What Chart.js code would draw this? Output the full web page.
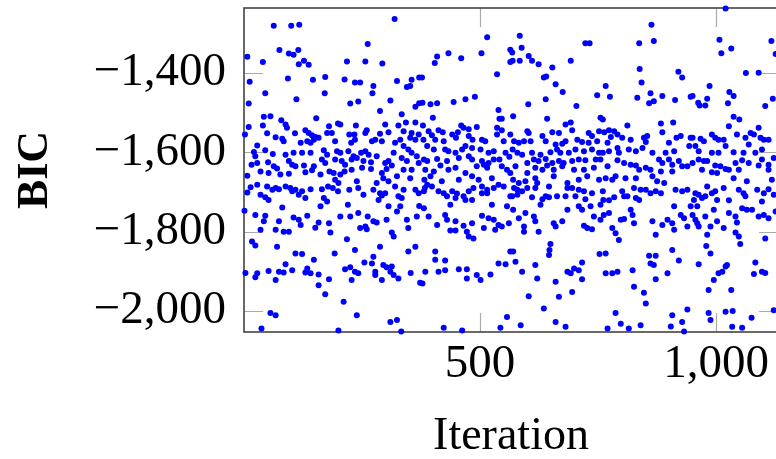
<!DOCTYPE html>
<html lang="en">
<head>
  <meta charset="UTF-8" />
  <title>BIC per Iteration</title>
  <script src="https://cdn.jsdelivr.net/npm/chart.js"></script>
  <style>
    html, body {
      margin: 0;
      padding: 0;
      background: #fff;
      overflow: hidden;
    }
    .chart-wrapper {
      width: 776px;
      height: 459px;
      overflow: hidden;
      position: relative;
      background: #fff;
    }
    canvas {
      display: block;
    }
  </style>
</head>
<body>
  <div class="chart-wrapper">
    <canvas id="bicChart" width="800" height="470"></canvas>
  </div>
  <script>
    // tick positions shown on the axes
    const xTickValues = [500, 1000];
    const yTickValues = [-2000, -1800, -1600, -1400];

    // [iteration, BIC] pairs
    const iter0to185 = [
      [63,-1281],[100,-1281],[117,-1278],[75,-1342],[95,-1351],[105,-1354],[115,-1342],[116,-1378],[127,-1369],[137,-1379],
      [7,-1359],[40,-1372],[12,-1422],[93,-1414],[146,-1417],[172,-1410],[45,-1451],[111,-1466],[171,-1451],[10,-1477],
      [42,-1510],[56,-1509],[153,-1514],[79,-1519],[10,-1536],[40,-1532],[88,-1530],[91,-1538],[2,-1555],[49,-1552],
      [67,-1562],[108,-1552],[81,-1566],[84,-1572],[130,-1544],[137,-1551],[144,-1557],[151,-1561],[134,-1572],[141,-1576],
      [148,-1568],[158,-1563],[176,-1551],[180,-1534],[28,-1583],[21,-1599],[45,-1595],[24,-1610],[61,-1604],[88,-1606],
      [105,-1601],[120,-1576],[123,-1601],[141,-1601],[169,-1595],[176,-1606],[16,-1631],[28,-1627],[51,-1625],[63,-1635],
      [70,-1641],[95,-1622],[102,-1631],[109,-1635],[127,-1633],[148,-1635],[165,-1618],[172,-1627],[7,-1659],[35,-1648],
      [52,-1652],[77,-1656],[95,-1654],[130,-1650],[144,-1645],[162,-1656],[181,-1648],[14,-1688],[28,-1682],[49,-1686],
      [60,-1694],[67,-1690],[74,-1693],[88,-1686],[98,-1690],[109,-1694],[123,-1698],[141,-1693],[165,-1693],[178,-1686],
      [7,-1701],[35,-1707],[45,-1713],[52,-1720],[102,-1698],[116,-1707],[130,-1715],[169,-1715],[176,-1724],[1,-1747],
      [81,-1739],[162,-1736],[24,-1758],[45,-1760],[42,-1774],[74,-1774],[105,-1764],[116,-1770],[134,-1760],[120,-1783],
      [158,-1777],[151,-1790],[180,-1779],[35,-1795],[67,-1795],[84,-1800],[95,-1800],[183,-1802],[17,-1825],[24,-1835],
      [70,-1838],[109,-1855],[123,-1856],[148,-1871],[88,-1882],[74,-1901],[84,-1903],[102,-1897],[52,-1899],[134,-1893],
      [130,-1903],[141,-1905],[158,-1908],[3,-1904],[28,-1905],[24,-1915],[67,-1922],[180,-1920],[158,-1935],[172,-1958],
      [56,-2005],[67,-2011],[37,-2044]
    ];
    const iter185to375 = [
      [319,-1264],[262,-1327],[218,-1371],[257,-1371],[293,-1376],[213,-1416],[235,-1424],[246,-1424],[274,-1433],[272,-1451],
      [324,-1420],[355,-1417],[345,-1435],[352,-1433],[371,-1411],[225,-1477],[242,-1472],[310,-1469],[363,-1485],[371,-1476],
      [288,-1496],[334,-1504],[199,-1527],[204,-1530],[237,-1532],[299,-1530],[327,-1532],[343,-1525],[363,-1525],[186,-1551],
      [223,-1555],[234,-1555],[260,-1544],[257,-1551],[288,-1553],[306,-1549],[338,-1547],[355,-1551],[370,-1555],[193,-1572],
      [227,-1576],[235,-1568],[271,-1572],[278,-1568],[292,-1572],[320,-1576],[331,-1568],[352,-1563],[363,-1568],[197,-1597],
      [204,-1601],[221,-1597],[232,-1610],[248,-1601],[257,-1597],[264,-1606],[281,-1610],[317,-1601],[338,-1584],[348,-1593],
      [355,-1601],[366,-1610],[193,-1618],[207,-1622],[214,-1631],[228,-1618],[239,-1614],[253,-1622],[269,-1625],[299,-1627],
      [306,-1622],[313,-1633],[334,-1614],[345,-1622],[370,-1627],[190,-1652],[204,-1656],[213,-1648],[228,-1644],[250,-1639],
      [269,-1642],[292,-1652],[302,-1642],[338,-1644],[355,-1644],[193,-1669],[200,-1677],[239,-1673],[281,-1677],[295,-1665],
      [306,-1673],[352,-1665],[324,-1660],[188,-1690],[223,-1694],[242,-1690],[274,-1694],[288,-1703],[292,-1709],[320,-1686],
      [338,-1694],[363,-1694],[199,-1698],[253,-1707],[299,-1703],[327,-1711],[334,-1715],[370,-1703],[220,-1732],[285,-1720],
      [331,-1736],[306,-1736],[371,-1735],[204,-1762],[225,-1762],[242,-1753],[262,-1762],[274,-1774],[302,-1770],[324,-1749],
      [345,-1770],[366,-1762],[246,-1791],[257,-1787],[281,-1777],[260,-1794],[313,-1802],[317,-1812],[348,-1791],[218,-1819],
      [288,-1838],[363,-1838],[192,-1855],[235,-1846],[348,-1850],[255,-1878],[271,-1880],[274,-1863],[295,-1884],[302,-1890],
      [313,-1888],[214,-1895],[225,-1890],[235,-1901],[242,-1905],[278,-1901],[278,-1909],[310,-1901],[317,-1909],[327,-1918],
      [353,-1904],[373,-1929],[228,-1922],[292,-1922],[211,-1977],[239,-2011],[310,-2028],[324,-2023],[200,-2049],[333,-2052]
    ];
    const iter375to565 = [
      [515,-1310],[409,-1358],[433,-1350],[460,-1363],[404,-1375],[503,-1350],[564,-1341],[564,-1372],[377,-1411],[536,-1403],
      [395,-1479],[409,-1476],[444,-1473],[469,-1466],[489,-1460],[378,-1475],[539,-1493],[400,-1513],[541,-1515],[546,-1515],
      [379,-1532],[391,-1547],[412,-1544],[421,-1549],[460,-1532],[465,-1538],[453,-1549],[476,-1542],[493,-1536],[536,-1538],
      [546,-1544],[380,-1568],[398,-1557],[405,-1568],[423,-1572],[441,-1555],[449,-1563],[476,-1559],[484,-1568],[504,-1568],
      [511,-1572],[536,-1555],[564,-1555],[388,-1584],[402,-1593],[426,-1593],[433,-1597],[448,-1601],[462,-1593],[469,-1584],
      [483,-1589],[501,-1593],[518,-1601],[529,-1597],[550,-1572],[554,-1601],[381,-1618],[388,-1622],[409,-1617],[430,-1622],
      [455,-1614],[476,-1610],[483,-1618],[504,-1622],[518,-1627],[529,-1618],[541,-1618],[562,-1611],[384,-1644],[402,-1648],
      [416,-1633],[433,-1644],[448,-1639],[469,-1652],[493,-1635],[508,-1631],[515,-1639],[546,-1635],[557,-1644],[382,-1669],
      [395,-1660],[419,-1673],[455,-1669],[483,-1660],[497,-1669],[525,-1665],[539,-1682],[564,-1652],[383,-1690],[388,-1682],
      [398,-1686],[412,-1698],[430,-1711],[441,-1698],[451,-1704],[465,-1711],[476,-1698],[486,-1690],[504,-1686],[515,-1694],
      [529,-1690],[550,-1686],[381,-1698],[423,-1703],[448,-1715],[469,-1720],[483,-1720],[504,-1703],[515,-1703],[437,-1732],
      [525,-1732],[557,-1736],[564,-1711],[381,-1741],[391,-1762],[409,-1783],[426,-1758],[430,-1770],[448,-1774],[465,-1785],
      [483,-1779],[504,-1760],[518,-1766],[529,-1770],[539,-1783],[546,-1787],[561,-1779],[437,-1797],[448,-1797],[472,-1800],
      [476,-1812],[486,-1817],[508,-1791],[532,-1795],[405,-1850],[405,-1871],[426,-1873],[564,-1850],[384,-1901],[412,-1901],
      [426,-1897],[455,-1895],[472,-1895],[493,-1909],[501,-1922],[522,-1908],[539,-1880],[554,-1882],[378,-1931],[472,-1918],
      [557,-2015],[423,-2042],[462,-2049],[543,-2042]
    ];
    const iter565to755 = [
      [723,-1325],[732,-1325],[584,-1306],[588,-1336],[568,-1348],[569,-1369],[584,-1369],[603,-1357],[610,-1369],[624,-1378],
      [692,-1369],[653,-1386],[635,-1411],[640,-1409],[660,-1428],[675,-1448],[748,-1456],[602,-1479],[639,-1466],[704,-1483],
      [570,-1509],[642,-1515],[681,-1530],[692,-1525],[755,-1513],[600,-1547],[603,-1551],[653,-1549],[632,-1559],[667,-1551],
      [695,-1544],[730,-1551],[737,-1559],[752,-1547],[572,-1572],[582,-1576],[593,-1572],[607,-1572],[639,-1572],[660,-1580],
      [674,-1578],[681,-1572],[706,-1568],[716,-1574],[730,-1576],[748,-1572],[569,-1593],[579,-1601],[589,-1606],[610,-1601],
      [628,-1606],[649,-1600],[663,-1593],[670,-1601],[688,-1601],[702,-1593],[720,-1597],[737,-1593],[752,-1601],[600,-1627],
      [614,-1618],[624,-1622],[639,-1617],[653,-1627],[667,-1622],[677,-1627],[695,-1622],[709,-1618],[723,-1620],[745,-1618],
      [755,-1618],[575,-1635],[600,-1652],[617,-1639],[632,-1644],[642,-1633],[656,-1644],[674,-1635],[699,-1644],[720,-1644],
      [741,-1639],[570,-1669],[582,-1677],[596,-1673],[617,-1665],[656,-1660],[685,-1677],[709,-1669],[727,-1660],[752,-1669],
      [572,-1690],[579,-1694],[589,-1698],[600,-1690],[621,-1677],[617,-1690],[646,-1686],[685,-1690],[695,-1690],[709,-1694],
      [720,-1698],[737,-1703],[568,-1711],[579,-1707],[610,-1713],[632,-1718],[639,-1711],[646,-1713],[663,-1711],[681,-1711],
      [702,-1711],[723,-1718],[628,-1732],[685,-1745],[709,-1736],[716,-1745],[734,-1736],[755,-1732],[570,-1745],[582,-1766],
      [596,-1753],[614,-1762],[617,-1774],[593,-1787],[656,-1779],[660,-1787],[674,-1774],[720,-1785],[741,-1762],[727,-1791],
      [737,-1794],[755,-1770],[593,-1800],[624,-1800],[570,-1850],[649,-1831],[647,-1846],[646,-1859],[753,-1856],[575,-1876],
      [589,-1901],[617,-1884],[621,-1918],[685,-1901],[692,-1905],[699,-1893],[709,-1897],[716,-1878],[716,-1920],[660,-1926],
      [603,-1963],[667,-1964],[695,-1952],[635,-1994],[586,-2036],[660,-2028],[681,-2040]
    ];
    const iter755to945 = [
      [863,-1278],[837,-1325],[868,-1319],[838,-1390],[842,-1424],[920,-1397],[928,-1411],[766,-1433],[775,-1460],[833,-1462],
      [858,-1476],[861,-1451],[868,-1471],[886,-1458],[913,-1468],[946,-1460],[760,-1517],[812,-1532],[883,-1527],[909,-1525],
      [886,-1549],[763,-1549],[773,-1544],[784,-1547],[777,-1561],[791,-1555],[801,-1563],[819,-1568],[847,-1563],[854,-1559],
      [851,-1574],[925,-1559],[916,-1563],[946,-1563],[770,-1576],[791,-1589],[794,-1601],[815,-1593],[830,-1597],[844,-1589],
      [865,-1601],[893,-1601],[900,-1576],[911,-1597],[943,-1584],[760,-1601],[773,-1597],[791,-1620],[805,-1627],[819,-1631],
      [830,-1633],[837,-1644],[851,-1639],[861,-1644],[879,-1618],[886,-1627],[883,-1648],[900,-1618],[907,-1631],[921,-1622],
      [928,-1635],[939,-1635],[770,-1635],[766,-1665],[780,-1669],[787,-1660],[808,-1665],[830,-1665],[865,-1660],[875,-1673],
      [890,-1677],[907,-1648],[760,-1698],[801,-1698],[805,-1711],[826,-1690],[840,-1694],[851,-1694],[837,-1720],[861,-1703],
      [872,-1698],[883,-1703],[914,-1694],[928,-1698],[939,-1694],[761,-1720],[773,-1721],[784,-1713],[812,-1711],[830,-1715],
      [762,-1758],[773,-1753],[798,-1770],[805,-1768],[819,-1745],[823,-1758],[826,-1779],[865,-1774],[886,-1783],[897,-1770],
      [907,-1779],[911,-1736],[925,-1758],[932,-1766],[939,-1787],[946,-1736],[780,-1791],[787,-1804],[794,-1821],[872,-1808],
      [911,-1795],[766,-1855],[858,-1861],[872,-1861],[861,-1880],[868,-1884],[907,-1846],[921,-1873],[766,-1905],[780,-1905],
      [791,-1901],[823,-1897],[897,-1905],[826,-1939],[872,-1920],[847,-1954],[851,-1981],[787,-2005],[907,-2011],[939,-1996],
      [770,-2044],[798,-2032],[815,-2044],[840,-2036],[904,-2039],[928,-2028],[932,-2052]
    ];
    const iter945to1131 = [
      [1020,-1237],[1007,-1316],[1011,-1350],[1032,-1338],[1117,-1319],[1126,-1352],[1063,-1400],[1090,-1399],[986,-1433],[950,-1458],
      [962,-1475],[965,-1482],[977,-1482],[981,-1465],[1025,-1476],[1028,-1448],[1037,-1458],[1104,-1483],[1120,-1465],[1037,-1510],
      [1049,-1517],[1027,-1534],[950,-1563],[967,-1566],[974,-1572],[991,-1555],[998,-1563],[1005,-1568],[1016,-1568],[1020,-1584],
      [1044,-1555],[1062,-1563],[1073,-1551],[1080,-1555],[1090,-1538],[1094,-1563],[1101,-1568],[1111,-1568],[956,-1584],[963,-1597],
      [991,-1601],[1005,-1601],[1037,-1600],[1058,-1601],[1069,-1580],[1083,-1601],[1097,-1593],[950,-1627],[963,-1618],[974,-1622],
      [981,-1622],[998,-1633],[1009,-1635],[1020,-1642],[1027,-1644],[1041,-1627],[1055,-1620],[1069,-1627],[1090,-1633],[1097,-1618],
      [1111,-1631],[1122,-1614],[970,-1644],[991,-1650],[1002,-1652],[1037,-1665],[1048,-1644],[1065,-1673],[1111,-1644],[1118,-1669],
      [956,-1703],[963,-1707],[981,-1686],[991,-1703],[998,-1698],[1016,-1690],[1048,-1694],[1058,-1703],[1062,-1711],[1087,-1694],
      [1101,-1703],[1111,-1693],[1122,-1707],[953,-1720],[970,-1715],[977,-1711],[1002,-1720],[1027,-1721],[960,-1736],[1097,-1724],
      [950,-1758],[956,-1770],[960,-1779],[963,-1787],[977,-1762],[995,-1745],[1002,-1774],[1027,-1753],[1041,-1762],[1044,-1777],
      [1055,-1741],[1065,-1745],[1076,-1745],[1090,-1762],[1101,-1758],[1111,-1766],[1126,-1749],[988,-1787],[1016,-1791],[981,-1808],
      [1041,-1802],[1048,-1812],[1051,-1831],[979,-1836],[988,-1855],[1104,-1817],[963,-1882],[995,-1922],[1005,-1905],[1013,-1901],
      [1020,-1888],[1023,-1884],[984,-1947],[1032,-1947],[1083,-1878],[1080,-1907],[1097,-1901],[1104,-1904],[984,-2005],[988,-2023],
      [1020,-2002],[1035,-2000],[1075,-2017],[1034,-2040],[1055,-2042],[1122,-1998]
    ];

    const allPoints = [].concat(iter0to185, iter185to375, iter375to565,
                                iter565to755, iter755to945, iter945to1131);

    const serif = "'Liberation Serif', 'Times New Roman', serif";

    // LaTeX-ish number format: real minus sign, comma thousands
    function fmt(value) {
      const s = Math.abs(value).toLocaleString('en-US');
      return value < 0 ? '\u2212' + s : s;
    }

    // pgfplots style box with short grey tick marks inside on every side
    const frame = {
      id: 'frame',
      beforeDatasetsDraw(chart) {
        const {ctx, chartArea: a, scales} = chart;
        const len = 19;
        ctx.save();
        ctx.strokeStyle = '#aaaaaa';
        ctx.lineWidth = 1.2;
        ctx.beginPath();
        xTickValues.forEach(v => {
          const px = Math.round(scales.x.getPixelForValue(v)) + 0.5;
          ctx.moveTo(px, a.top); ctx.lineTo(px, a.top + len);
          ctx.moveTo(px, a.bottom); ctx.lineTo(px, a.bottom - len);
        });
        yTickValues.forEach(v => {
          const py = Math.round(scales.y.getPixelForValue(v)) + 0.5;
          ctx.moveTo(a.left, py); ctx.lineTo(a.left + len, py);
          ctx.moveTo(a.right, py); ctx.lineTo(a.right - len, py);
        });
        ctx.stroke();
        ctx.strokeStyle = '#444444';
        ctx.lineWidth = 1.6;
        ctx.strokeRect(a.left, a.top, a.right - a.left, a.bottom - a.top);
        ctx.restore();
      }
    };

    new Chart(document.getElementById('bicChart'), {
      type: 'scatter',
      data: {
        datasets: [{
          label: 'BIC',
          data: allPoints,
          backgroundColor: '#0000ff',
          borderWidth: 0,
          pointRadius: 3,
          pointHoverRadius: 3,
          clip: false
        }]
      },
      options: {
        responsive: false,
        animation: false,
        devicePixelRatio: 1,
        layout: { padding: { top: 8, right: 22, left: 0, bottom: 0 } },
        plugins: { legend: { display: false }, tooltip: { enabled: false } },
        scales: {
          x: {
            type: 'linear',
            min: 0,
            max: 1131,
            afterBuildTicks: s => { s.ticks = xTickValues.map(v => ({ value: v })); },
            afterFit: s => { s.height = 138; s.paddingLeft = 0; s.paddingRight = 0; },
            grid: { display: false, drawTicks: false },
            border: { display: false },
            ticks: {
              padding: 4,
              color: '#000',
              maxRotation: 0,
              autoSkip: false,
              font: { family: serif, size: 47, lineHeight: 1.2 },
              callback: fmt
            },
            title: {
              display: true,
              text: 'Iteration',
              color: '#000',
              font: { family: serif, size: 46, lineHeight: 1.2 },
              padding: { top: 0, bottom: 5 }
            }
          },
          y: {
            type: 'linear',
            min: -2053,
            max: -1236,
            afterBuildTicks: s => { s.ticks = yTickValues.map(v => ({ value: v })); },
            afterFit: s => { s.width = 244; s.paddingTop = 0; s.paddingBottom = 0; },
            grid: { display: false, drawTicks: false },
            border: { display: false },
            ticks: {
              padding: 18,
              color: '#000',
              autoSkip: false,
              font: { family: serif, size: 47, lineHeight: 1.2 },
              callback: fmt
            },
            title: {
              display: true,
              text: 'BIC',
              color: '#000',
              font: { family: serif, size: 44, weight: 'bold', lineHeight: 1.2 },
              padding: { top: 9, bottom: 0 }
            }
          }
        }
      },
      plugins: [frame]
    });
  </script>
</body>
</html>
